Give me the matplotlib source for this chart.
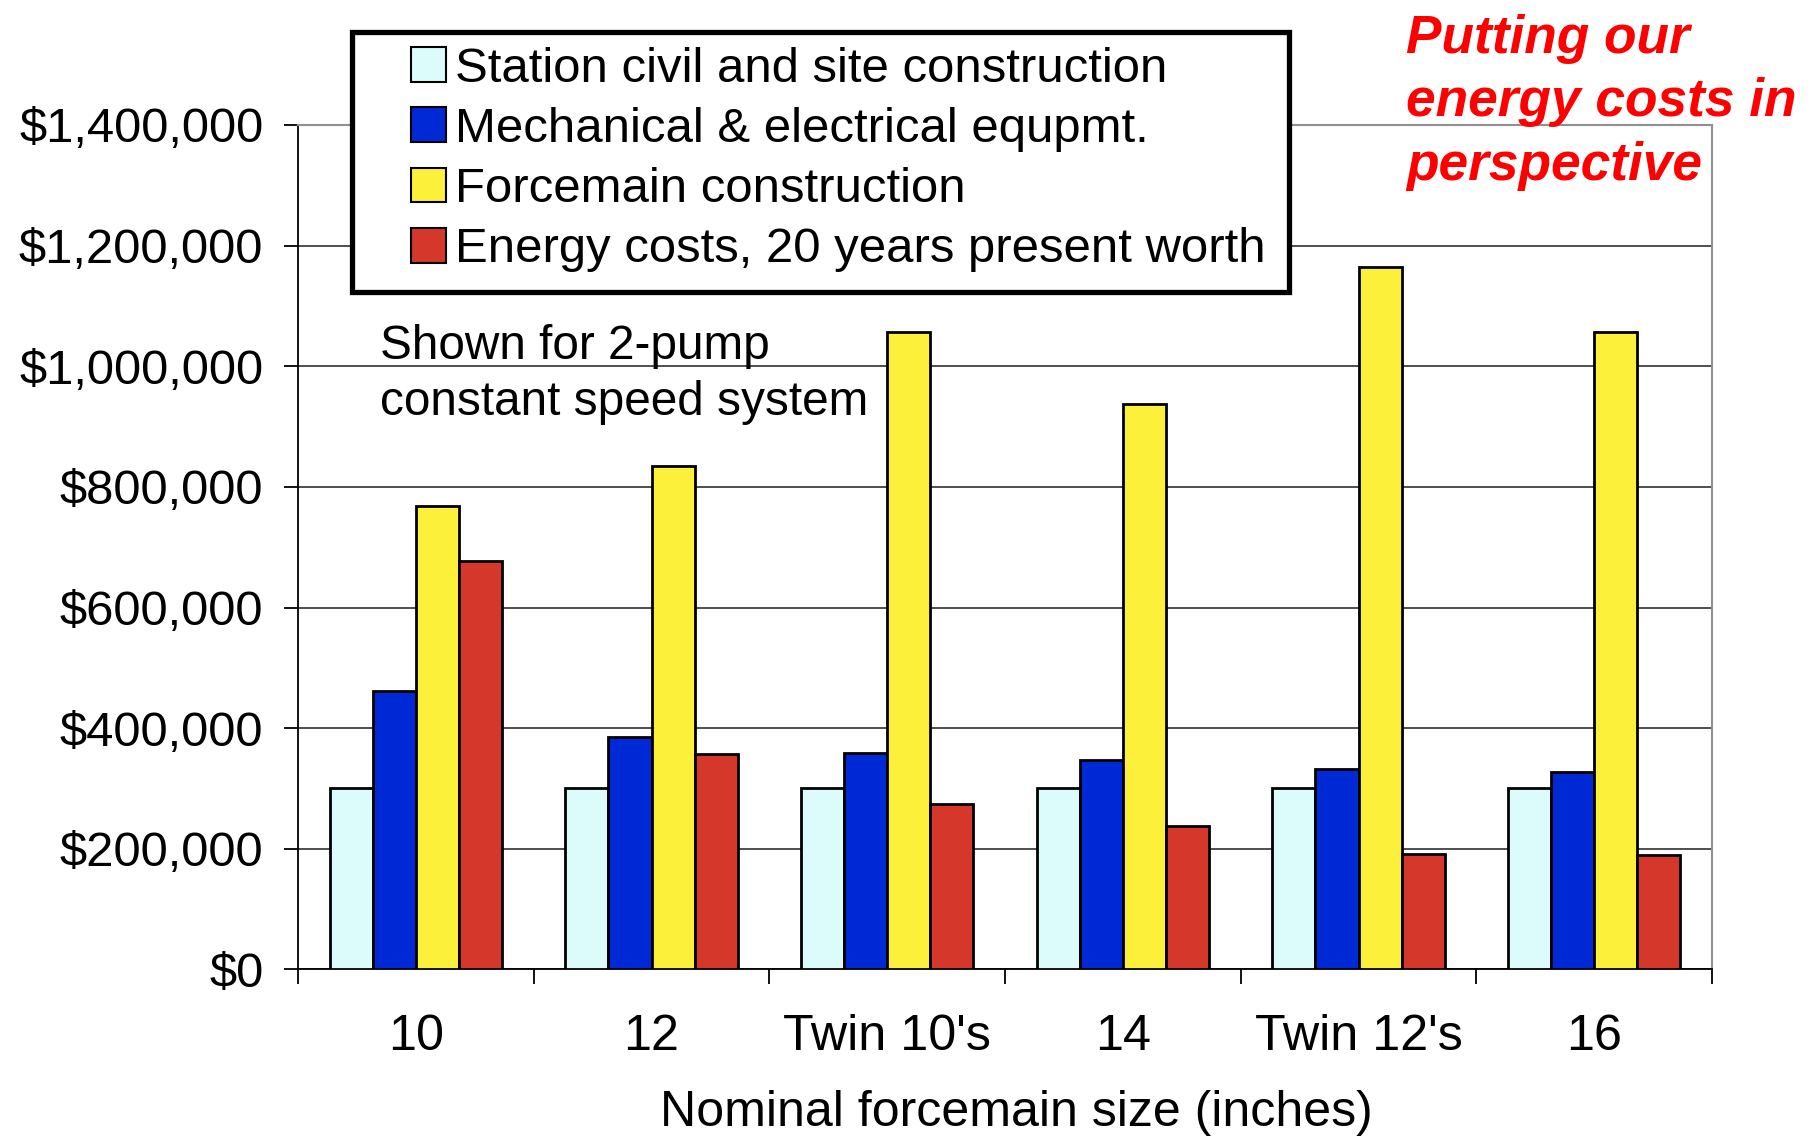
import matplotlib
matplotlib.use("Agg")
import matplotlib.pyplot as plt
from matplotlib.patches import Rectangle
from matplotlib.ticker import FuncFormatter, FixedLocator

plt.rcParams['font.family'] = ['Liberation Sans', 'DejaVu Sans']

sizes = ["10", "12", "Twin 10's", "14", "Twin 12's", "16"]
station_civil = [300000, 300000, 300000, 300000, 300000, 300000]
mech_elec = [462000, 385000, 359000, 347000, 332000, 328000]
forcemain = [769000, 834000, 1057000, 938000, 1164000, 1057000]
energy_pw = [677000, 357000, 274000, 238000, 192000, 190000]

series = [
    ("Station civil and site construction", station_civil, "#dcfcfc"),
    ("Mechanical & electrical equpmt.", mech_elec, "#0029d6"),
    ("Forcemain construction", forcemain, "#fcf03a"),
    ("Energy costs, 20 years present worth", energy_pw, "#d5372a"),
]

fig = plt.figure(figsize=(18.14, 11.36), dpi=100)
ax = fig.add_axes([0.1643, 0.1466, 0.7795, 0.7434])

x = list(range(len(sizes)))
w = 0.183
handles = []
for k, (name, vals, col) in enumerate(series):
    pos = [i + (k - 1.5) * w for i in x]
    b = ax.bar(pos, vals, width=w, color=col, edgecolor="black",
               linewidth=2, label=name, zorder=3)
    handles.append(b)

ax.set_xlim(-0.5, len(sizes) - 0.5)
ax.set_ylim(0, 1400000)
ax.set_yticks(range(0, 1400001, 200000))
ax.yaxis.set_major_formatter(FuncFormatter(lambda v, p: "${:,.0f}".format(v)))
ax.yaxis.grid(True, color="#404040", linewidth=1.3, zorder=0)

# ticks between groups, labels under group centres
ax.xaxis.set_major_locator(FixedLocator([i - 0.5 for i in range(len(sizes) + 1)]))
ax.xaxis.set_minor_locator(FixedLocator(x))
ax.set_xticklabels([], minor=False)
ax.set_xticklabels(sizes, minor=True)
ax.tick_params(axis="x", which="major", length=11, width=1.3, color="black")
ax.tick_params(axis="x", which="minor", length=0, pad=32, labelsize=36.2)
ax.tick_params(axis="y", length=10, width=1.3, pad=15, labelsize=35.3)

for s in ["top", "right"]:
    ax.spines[s].set_color("#909090")
    ax.spines[s].set_linewidth(1.5)
for s in ["left", "bottom"]:
    ax.spines[s].set_color("black")
    ax.spines[s].set_linewidth(1.3)

ax.set_xlabel("Nominal forcemain size (inches)", fontsize=36.1, labelpad=22)
ax.xaxis.label.set_x(0.508)

# legend box
fig.patches.append(Rectangle((0.194, 0.743), 0.5165, 0.2289, transform=fig.transFigure,
                             facecolor="white", edgecolor="black", linewidth=3.8, zorder=4))
leg = fig.legend(handles=handles, loc="upper left", bbox_to_anchor=(0.2128, 0.9806),
                 frameon=False, fontsize=35.4, borderpad=0, handlelength=0.71,
                 handleheight=0.71, handletextpad=0.2, labelspacing=0.31)
leg.set_zorder(5)
for h in leg.legend_handles:
    h.set_linewidth(1.5)

fig.text(0.2095, 0.7147, "Shown for 2-pump\nconstant speed system", fontsize=34.4,
         va="top", ha="left", linespacing=1.30)

fig.text(0.775, 0.988, "Putting our\nenergy costs in\nperspective", fontsize=38.3,
         color="#ff0000", fontweight="bold", fontstyle="italic",
         va="top", ha="left", linespacing=1.35)

fig.savefig("out.png", dpi=100)
